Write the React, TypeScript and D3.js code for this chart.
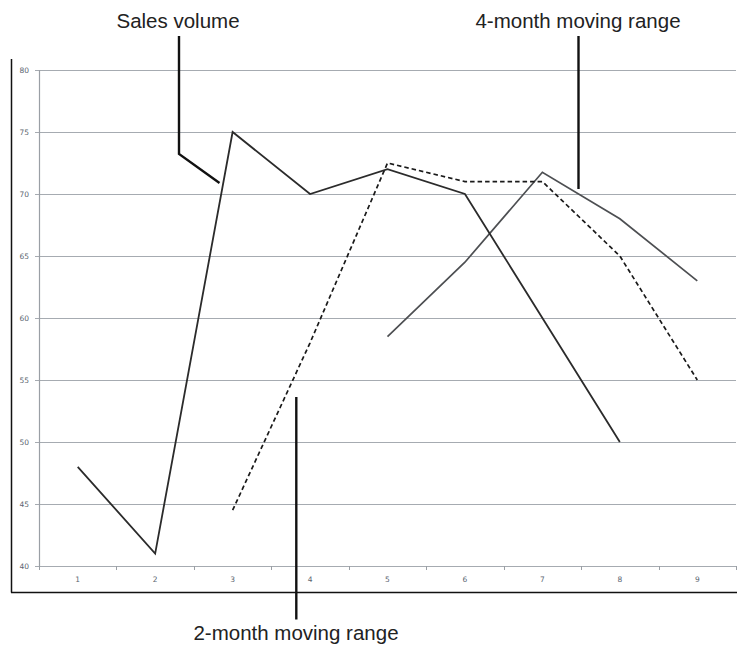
import React from "react";
import * as d3 from "d3";

const months = ["1", "2", "3", "4", "5", "6", "7", "8", "9"];
const salesVolume: (number | null)[] = [48, 41, 75, 70, 72, 70, 60, 50, null];
const twoMonthRange: (number | null)[] = [null, null, 44.5, 58, 72.5, 71, 71, 65, 55];
const fourMonthRange: (number | null)[] = [null, null, null, null, 58.5, 64.5, 71.75, 68, 63];
const yTicks = [40, 45, 50, 55, 60, 65, 70, 75, 80];

const W = 737;
const H = 645;

export default function App() {
  const x = d3.scaleBand<string>().domain(months).range([39, 736]);
  const y = d3.scaleLinear().domain([40, 80]).range([566, 70]);
  const cx = (m: string) => (x(m) as number) + x.bandwidth() / 2;

  const line = d3
    .line<number | null>()
    .defined((d) => d !== null)
    .x((_, i) => cx(months[i]))
    .y((d) => y(d as number));

  const font = "'Liberation Sans', Arial, Helvetica, sans-serif";
  const tickFont = "'DejaVu Sans', Verdana, sans-serif";
  const boundaries = months.map((m) => x(m) as number).concat([736]);

  return (
    <svg
      width={W}
      height={H}
      style={{ position: "absolute", left: 0, top: 0, background: "#fff" }}
    >
      {/* frame */}
      <line x1={11.5} x2={11.5} y1={59} y2={592.5} stroke="#111" strokeWidth={1.5} />
      <line x1={11} x2={737} y1={592.5} y2={592.5} stroke="#111" strokeWidth={1.5} />

      {/* gridlines */}
      {yTicks.map((t) => (
        <line
          key={t}
          x1={35}
          x2={736}
          y1={Math.round(y(t)) + 0.5}
          y2={Math.round(y(t)) + 0.5}
          stroke="#a6abb1"
          strokeWidth={1.2}
        />
      ))}
      {/* y axis */}
      <line x1={39.5} x2={39.5} y1={70} y2={567} stroke="#9a9fa5" strokeWidth={1.2} />
      {yTicks.map((t) => (
        <text
          key={"yl" + t}
          x={29}
          y={y(t) + 3}
          textAnchor="end"
          fontSize={7.5}
          fontFamily={tickFont}
          fill="#5b6570"
        >
          {t}
        </text>
      ))}
      {/* x ticks */}
      {boundaries.map((b, i) => (
        <line
          key={"xt" + i}
          x1={Math.round(b) + 0.5}
          x2={Math.round(b) + 0.5}
          y1={566}
          y2={570}
          stroke="#9a9fa5"
          strokeWidth={1}
        />
      ))}
      {months.map((m) => (
        <text
          key={"xl" + m}
          x={cx(m)}
          y={582}
          textAnchor="middle"
          fontSize={7.5}
          fontFamily={tickFont}
          fill="#5b6570"
        >
          {m}
        </text>
      ))}

      {/* series */}
      <path d={line(fourMonthRange) || ""} fill="none" stroke="#4d4f52" strokeWidth={1.7} />
      <path
        d={line(twoMonthRange) || ""}
        fill="none"
        stroke="#1a1a1a"
        strokeWidth={1.7}
        strokeDasharray="4.5,3"
      />
      <path d={line(salesVolume) || ""} fill="none" stroke="#2b2b2b" strokeWidth={1.8} />

      {/* callouts */}
      <polyline
        points="179,36 179,154 219.5,183"
        fill="none"
        stroke="#111"
        strokeWidth={2.4}
      />
      <text x={178} y={28} textAnchor="middle" fontSize={20.5} fontFamily={font} fill="#222">
        Sales volume
      </text>

      <line x1={578.5} x2={578.5} y1={36} y2={189} stroke="#111" strokeWidth={2.4} />
      <text x={578} y={28} textAnchor="middle" fontSize={20.5} fontFamily={font} fill="#222">
        4-month moving range
      </text>

      <line x1={296.3} x2={296.3} y1={397} y2={619.5} stroke="#111" strokeWidth={2.4} />
      <text x={296} y={640} textAnchor="middle" fontSize={20.5} fontFamily={font} fill="#222">
        2-month moving range
      </text>
    </svg>
  );
}
